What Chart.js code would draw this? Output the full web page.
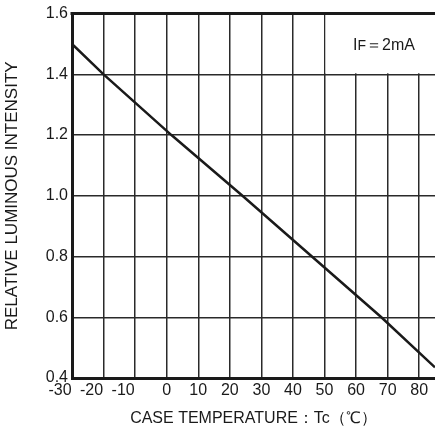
<!DOCTYPE html>
<html>
<head>
<meta charset="utf-8">
<script src="https://cdn.jsdelivr.net/npm/chart.js@4"></script>
<style>
  html, body { margin: 0; padding: 0; background: #fff; }
  #wrap { width: 435px; height: 437px; position: relative; }
</style>
</head>
<body>
<div id="wrap"><canvas id="tempChart"></canvas></div>
<script>
// Data
const caseTemp = [-30, -20, 1.5, 24, 46, 68, 85];
const relIntensity = [1.5, 1.4, 1.2, 1.0, 0.8, 0.6, 0.435];

// Axis ticks
const xTicks = [-30, -20, -10, 0, 10, 20, 30, 40, 50, 60, 70, 80];
const yTicks = [0.4, 0.6, 0.8, 1.0, 1.2, 1.4, 1.6];

const FONT = "'Liberation Sans', Arial, sans-serif";
const INK = '#1a1a1a';

// Frame top border + condition label box
const framePlugin = {
    id: 'frame',
    beforeDatasetsDraw(chart) {
        const { ctx, chartArea, scales } = chart;
        const xs = scales.x, ys = scales.y;
        const boxLeft = xs.getPixelForValue(50) + 1;
        const boxBottom = ys.getPixelForValue(1.4) - 1;
        ctx.save();
        ctx.fillStyle = '#fff';
        ctx.fillRect(boxLeft, chartArea.top, chartArea.right - boxLeft + 2, boxBottom - chartArea.top);

        // condition text: IF=2mA
        ctx.fillStyle = INK;
        ctx.textBaseline = 'alphabetic';
        let tx = 353, ty = 50;
        ctx.font = '16px ' + FONT;
        ctx.fillText('I', tx, ty);
        tx += ctx.measureText('I').width;
        ctx.font = '14px ' + FONT;
        ctx.fillText('F', tx, ty);
        tx += ctx.measureText('F').width;
        ctx.font = '16px ' + FONT;
        ctx.fillText('＝2mA', tx, ty);
        ctx.restore();
    },
    afterDraw(chart) {
        const { ctx, chartArea } = chart;
        ctx.save();
        ctx.strokeStyle = INK;
        ctx.lineWidth = 3;
        ctx.beginPath();
        ctx.moveTo(chartArea.left - 1.5, chartArea.top);
        ctx.lineTo(chartArea.right + 2, chartArea.top);
        ctx.stroke();
        ctx.restore();
    }
};

new Chart(document.getElementById('tempChart'), {
    type: 'line',
    data: {
        datasets: [{
            data: caseTemp.map((t, i) => ({ x: t, y: relIntensity[i] })),
            borderColor: INK,
            borderWidth: 2.5,
            pointRadius: 0,
            tension: 0,
            fill: false
        }]
    },
    options: {
        responsive: true,
        maintainAspectRatio: false,
        animation: false,
        layout: { padding: { top: 12, right: 0, left: 0, bottom: 0 } },
        plugins: {
            legend: { display: false },
            tooltip: { enabled: false }
        },
        scales: {
            x: {
                type: 'linear',
                min: -30,
                max: 85,
                afterBuildTicks: (scale) => { scale.ticks = xTicks.map(v => ({ value: v })); },
                afterFit: (scale) => { scale.height = 59; },
                grid: { color: '#2a2a2a', lineWidth: 1.5, drawTicks: false },
                border: { display: true, color: INK, width: 3 },
                ticks: {
                    color: INK,
                    padding: 3,
                    maxRotation: 0,
                    autoSkip: false,
                    font: { family: FONT, size: 16 },
                    callback: (v) => v < 0 ? v + '\u2002\u2002\u2002' : String(v)
                },
                title: {
                    display: true,
                    text: 'CASE TEMPERATURE：Tc（℃）',
                    color: INK,
                    font: { family: FONT, size: 16 },
                    padding: { top: 2, bottom: 9 }
                }
            },
            y: {
                min: 0.4,
                max: 1.6,
                afterBuildTicks: (scale) => { scale.ticks = yTicks.map(v => ({ value: v })); },
                afterFit: (scale) => { scale.width = 72; },
                grid: { color: '#2a2a2a', lineWidth: 1.5, drawTicks: false },
                border: { display: true, color: INK, width: 3 },
                ticks: {
                    color: INK,
                    padding: 4,
                    font: { family: FONT, size: 16 },
                    callback: (v) => Number(v).toFixed(1)
                },
                title: {
                    display: true,
                    text: 'RELATIVE LUMINOUS INTENSITY',
                    color: INK,
                    font: { family: FONT, size: 17 },
                    padding: { top: 2, bottom: 0 }
                }
            }
        }
    },
    plugins: [framePlugin]
});
</script>
</body>
</html>
